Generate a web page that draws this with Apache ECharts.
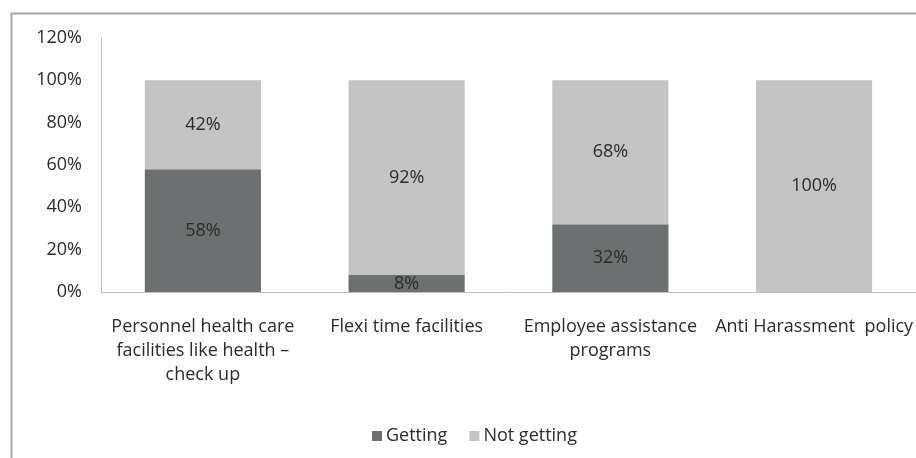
<!DOCTYPE html>
<html>
<head>
<meta charset="utf-8">
<script src="https://cdn.jsdelivr.net/npm/echarts@6/dist/echarts.min.js"></script>
<style>
  html, body { margin: 0; padding: 0; background: #fff; }
  #chart { width: 916px; height: 458px; }
</style>
</head>
<body>
<div id="chart"></div>
<script>
// Benefit categories (line breaks follow the axis label wrapping)
const categories = [
  'Personnel health care\nfacilities like health \u2013\ncheck up',
  'Flexi time facilities',
  'Employee assistance\nprograms',
  'Anti Harassment  policy'
];
// Share of respondents (%)
const getting = [58, 8, 32, 0];
const notGetting = [42, 92, 68, 100];
const yTicks = { min: 0, max: 120, step: 20 };

const FONT = '"Open Sans", Lato, sans-serif';
const TEXT = '#2b2b2b';
const SIZE = 18;

const chart = echarts.init(document.getElementById('chart'), null, { renderer: 'canvas' });

const labelFmt = p => (p.value ? p.value + '%' : '');

chart.setOption({
  animation: false,
  backgroundColor: '#ffffff',
  textStyle: { fontFamily: FONT, color: TEXT },
  graphic: [{
    type: 'rect',
    shape: { x: 11.5, y: 13.5, width: 1000, height: 1000 },
    style: { fill: 'none', stroke: '#a6a6a6', lineWidth: 2 },
    silent: true,
    z: -1
  }],
  grid: { left: 101, right: -1, top: 38, bottom: 166, containLabel: false },
  legend: {
    left: 367,
    top: 422,
    itemWidth: 10,
    itemHeight: 10,
    itemGap: 22,
    icon: 'rect',
    textStyle: { fontFamily: FONT, fontSize: SIZE, color: TEXT, padding: [0, 0, 0, -1] },
    data: ['Getting', 'Not getting']
  },
  xAxis: {
    type: 'category',
    data: categories,
    axisLine: { lineStyle: { color: '#bfbfbf', width: 1 } },
    axisTick: { show: false },
    axisLabel: {
      interval: 0,
      margin: 23,
      fontFamily: FONT,
      fontSize: SIZE,
      lineHeight: 24,
      color: TEXT,
      align: 'center'
    }
  },
  yAxis: {
    type: 'value',
    min: yTicks.min,
    max: yTicks.max,
    interval: yTicks.step,
    axisLine: { show: true, lineStyle: { color: '#bfbfbf', width: 1 } },
    axisTick: { show: false },
    splitLine: { show: false },
    axisLabel: {
      formatter: '{value}%',
      fontFamily: FONT,
      fontSize: SIZE,
      color: TEXT,
      margin: 19
    }
  },
  series: [
    {
      name: 'Getting',
      type: 'bar',
      stack: 'total',
      barWidth: '57%',
      data: getting,
      itemStyle: { color: '#6d7070' },
      label: {
        show: true,
        position: 'inside',
        formatter: labelFmt,
        fontFamily: FONT,
        fontSize: SIZE,
        color: TEXT
      }
    },
    {
      name: 'Not getting',
      type: 'bar',
      stack: 'total',
      barWidth: '57%',
      data: notGetting,
      itemStyle: { color: '#c4c4c4' },
      label: {
        show: true,
        position: 'inside',
        formatter: labelFmt,
        fontFamily: FONT,
        fontSize: SIZE,
        color: TEXT
      }
    }
  ]
});
</script>
</body>
</html>
